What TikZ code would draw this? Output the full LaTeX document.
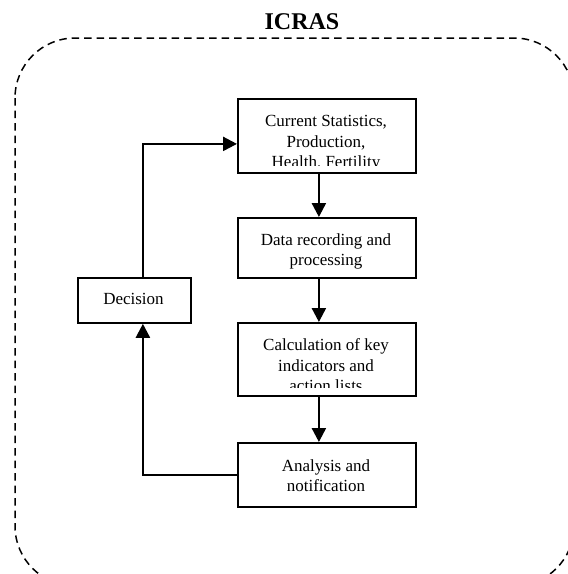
\documentclass[tikz,border=0pt]{standalone}
\usepackage{fontspec}
\setmainfont{Liberation Serif}
\usetikzlibrary{arrows.meta,calc}
\begin{document}
\begin{tikzpicture}[x=1pt,y=-1pt,
  stepbox/.style={draw, line width=1.8pt, inner sep=0pt, anchor=north west},
  txt/.style={anchor=north, inner sep=0pt, align=center, font=\fontsize{17}{20}\selectfont},
  arr/.style={line width=2.4pt, -{Triangle[length=14pt,width=14pt]}},
  frame/.style={line width=1.5pt, dash pattern=on 7.5pt off 5pt, rounded corners=60pt}
]
\useasboundingbox (0,0) rectangle (568,574);
\clip (0,0) rectangle (568,574);
\draw[frame] (15,38) rectangle (574,586);
\node[anchor=base, inner sep=0pt, font=\fontsize{24}{28}\selectfont\bfseries] (title) at (302,29) {ICRAS};

\node[stepbox, minimum width=178pt, minimum height=74pt] (b1) at (237,98) {};
\node[stepbox, minimum width=178pt, minimum height=60pt] (b2) at (237,217) {};
\node[stepbox, minimum width=178pt, minimum height=73pt] (b3) at (237,322) {};
\node[stepbox, minimum width=178pt, minimum height=64pt] (b4) at (237,442) {};
\node[stepbox, minimum width=113pt, minimum height=45pt] (dec) at (77,277) {};

\begin{scope}
\clip (240,101) rectangle (412,165.5);
\node[txt, font=\fontsize{17}{20.5}\selectfont] (t1) at (326,112) {\strut Current Statistics,\\ Production,\\ Health, Fertility};
\end{scope}
\node[txt] (t2) at (326,231) {\strut Data recording and\\ processing};
\begin{scope}
\clip (240,325) rectangle (412,387.5);
\node[txt, font=\fontsize{17}{20.5}\selectfont] (t3) at (326,336) {\strut Calculation of key\\ indicators and\\ action lists};
\end{scope}
\node[txt] (t4) at (326,457) {\strut Analysis and\\ notification};
\node[txt] (t5) at (133.5,290) {\strut Decision};

\draw[arr] ([xshift=-8pt]b1.south) -- ([xshift=-8pt]b2.north);
\draw[arr] ([xshift=-8pt]b2.south) -- ([xshift=-8pt]b3.north);
\draw[arr] ([xshift=-8pt]b3.south) -- ([xshift=-8pt]b4.north);
\draw[arr] (b4.west) -| ([xshift=8.5pt]dec.south);
\draw[arr] ([xshift=8.5pt]dec.north) |- ([yshift=-8pt]b1.west);
\end{tikzpicture}
\end{document}
